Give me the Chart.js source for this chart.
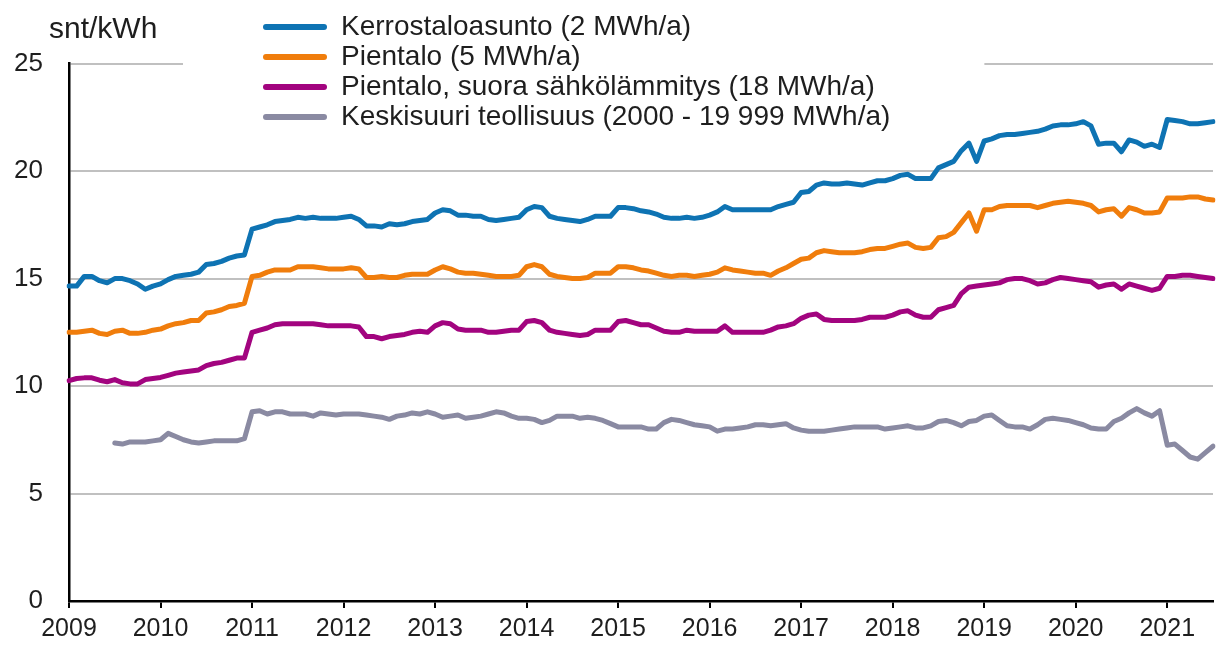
<!DOCTYPE html>
<html><head><meta charset="utf-8">
<script src="https://cdn.jsdelivr.net/npm/chart.js@4/dist/chart.umd.min.js"></script>
<style>html,body{margin:0;padding:0;background:#fff}#wrap{width:1216px;height:652px;position:relative}</style>
</head><body><div id="wrap"><canvas id="c"></canvas></div>
<script>
// Categories: monthly, Jan 2009 .. Jul 2021
const months = [];
for (let y = 2009; y <= 2021; y++) {
  for (let m = 1; m <= 12; m++) {
    if (y === 2021 && m > 7) break;
    months.push(y + '-' + String(m).padStart(2, '0'));
  }
}

const seriesLabels = [
  'Kerrostaloasunto (2 MWh/a)',
  'Pientalo (5 MWh/a)',
  'Pientalo, suora sähkölämmitys (18 MWh/a)',
  'Keskisuuri teollisuus (2000 - 19 999 MWh/a)'
];
const unitLabel = 'snt/kWh';

const kerrostalo = [
  14.65,14.65,15.1,15.1,14.9,14.8,15.0,15.0,14.9,14.75,14.5,14.65,
  14.75,14.95,15.1,15.15,15.2,15.3,15.65,15.7,15.8,15.95,16.05,16.1,
  17.3,17.4,17.5,17.65,17.7,17.75,17.85,17.8,17.85,17.8,17.8,17.8,
  17.85,17.9,17.75,17.45,17.45,17.4,17.55,17.5,17.55,17.65,17.7,17.75,
  18.05,18.2,18.15,17.95,17.95,17.9,17.9,17.75,17.7,17.75,17.8,17.85,
  18.2,18.35,18.3,17.9,17.8,17.75,17.7,17.65,17.75,17.9,17.9,17.9,
  18.3,18.3,18.25,18.15,18.1,18.0,17.85,17.8,17.8,17.85,17.8,17.85,
  17.95,18.1,18.35,18.2,18.2,18.2,18.2,18.2,18.2,18.35,18.45,18.55,
  19.0,19.05,19.35,19.45,19.4,19.4,19.45,19.4,19.35,19.45,19.55,19.55,
  19.65,19.8,19.85,19.65,19.65,19.65,20.15,20.3,20.45,20.95,21.3,20.45,
  21.4,21.5,21.65,21.7,21.7,21.75,21.8,21.85,21.95,22.1,22.15,22.15,
  22.2,22.3,22.1,21.25,21.3,21.3,20.9,21.45,21.35,21.15,21.25,21.1,
  22.4,22.35,22.3,22.2,22.2,22.25,22.3
];
const pientalo = [
  12.5,12.5,12.55,12.6,12.45,12.4,12.55,12.6,12.45,12.45,12.5,12.6,
  12.65,12.8,12.9,12.95,13.05,13.05,13.4,13.45,13.55,13.7,13.75,13.85,
  15.1,15.15,15.3,15.4,15.4,15.4,15.55,15.55,15.55,15.5,15.45,15.45,
  15.45,15.5,15.45,15.05,15.05,15.1,15.05,15.05,15.15,15.2,15.2,15.2,
  15.4,15.55,15.45,15.3,15.25,15.25,15.2,15.15,15.1,15.1,15.1,15.15,
  15.55,15.65,15.55,15.2,15.1,15.05,15.0,15.0,15.05,15.25,15.25,15.25,
  15.55,15.55,15.5,15.4,15.35,15.25,15.15,15.1,15.15,15.15,15.1,15.15,
  15.2,15.3,15.5,15.4,15.35,15.3,15.25,15.25,15.15,15.35,15.5,15.7,
  15.9,15.95,16.2,16.3,16.25,16.2,16.2,16.2,16.25,16.35,16.4,16.4,
  16.5,16.6,16.65,16.45,16.4,16.45,16.9,16.95,17.15,17.6,18.05,17.2,
  18.2,18.2,18.35,18.4,18.4,18.4,18.4,18.3,18.4,18.5,18.55,18.6,
  18.55,18.5,18.4,18.1,18.2,18.25,17.9,18.3,18.2,18.05,18.05,18.1,
  18.75,18.75,18.75,18.8,18.8,18.7,18.65
];
const pientaloSahko = [
  10.25,10.35,10.38,10.38,10.27,10.2,10.3,10.15,10.1,10.1,10.3,10.35,
  10.4,10.5,10.6,10.65,10.7,10.75,10.95,11.05,11.1,11.2,11.3,11.3,
  12.5,12.6,12.7,12.85,12.9,12.9,12.9,12.9,12.9,12.85,12.8,12.8,
  12.8,12.8,12.75,12.3,12.3,12.2,12.3,12.35,12.4,12.5,12.55,12.5,
  12.8,12.95,12.9,12.65,12.6,12.6,12.6,12.5,12.5,12.55,12.6,12.6,
  13.0,13.05,12.95,12.6,12.5,12.45,12.4,12.35,12.4,12.6,12.6,12.6,
  13.0,13.05,12.95,12.85,12.85,12.7,12.55,12.5,12.5,12.6,12.55,12.55,
  12.55,12.55,12.8,12.5,12.5,12.5,12.5,12.5,12.6,12.75,12.8,12.9,
  13.15,13.3,13.35,13.1,13.05,13.05,13.05,13.05,13.1,13.2,13.2,13.2,
  13.3,13.45,13.5,13.3,13.2,13.2,13.55,13.65,13.75,14.3,14.6,14.65,
  14.7,14.75,14.8,14.95,15.0,15.0,14.9,14.75,14.8,14.95,15.05,15.0,
  14.95,14.9,14.85,14.6,14.7,14.75,14.5,14.75,14.65,14.55,14.45,14.55,
  15.1,15.1,15.15,15.15,15.1,15.05,15.0
];
const teollisuus = [
  null,null,null,null,null,null,7.35,7.3,7.4,7.4,7.4,7.45,
  7.5,7.8,7.65,7.5,7.4,7.35,7.4,7.45,7.45,7.45,7.45,7.55,
  8.8,8.85,8.7,8.8,8.8,8.7,8.7,8.7,8.6,8.75,8.7,8.65,
  8.7,8.7,8.7,8.65,8.6,8.55,8.45,8.6,8.65,8.75,8.7,8.8,
  8.7,8.55,8.6,8.65,8.5,8.55,8.6,8.7,8.8,8.75,8.6,8.5,
  8.5,8.45,8.3,8.4,8.6,8.6,8.6,8.5,8.55,8.5,8.4,8.25,
  8.1,8.1,8.1,8.1,8.0,8.0,8.3,8.45,8.4,8.3,8.2,8.15,
  8.1,7.9,8.0,8.0,8.05,8.1,8.2,8.2,8.15,8.2,8.25,8.05,
  7.95,7.9,7.9,7.9,7.95,8.0,8.05,8.1,8.1,8.1,8.1,8.0,
  8.05,8.1,8.15,8.05,8.05,8.15,8.35,8.4,8.3,8.15,8.35,8.4,
  8.6,8.65,8.4,8.15,8.1,8.1,8.0,8.2,8.45,8.5,8.45,8.4,
  8.3,8.2,8.05,8.0,8.0,8.35,8.5,8.75,8.95,8.75,8.6,8.85,
  7.25,7.3,7.0,6.7,6.6,6.9,7.2
];
const seriesColors = ['#0E73B3', '#F07D0C', '#A2047F', '#8A8AA2'];

const FONT = "'Liberation Sans', Arial, Helvetica, sans-serif";

function makeSet(label, data, color) {
  return { label, data, borderColor: color, backgroundColor: color, fill: false,
           borderWidth: 5, pointRadius: 0, tension: 0, spanGaps: false,
           borderCapStyle: 'round', borderJoinStyle: 'round' };
}

// legend drawn on its own layer above the plot, placed next to the unit label
const legendPlacement = {
  id: 'legendPlacement',
  beforeLayout(chart) {
    const lg = chart.legend; if (!lg) return;
    lg._layers = () => [{ z: 1, draw: (ca) => lg.draw(ca) }];
  },
  afterLayout(chart) {
    const ca = chart.chartArea;
    const lg = chart.legend;
    if (lg) {
      lg.left = ca.left + 192;
      lg.top = 11;
      lg.right = ca.right;
      lg.bottom = ca.bottom;
    }
    const tb = chart.titleBlock;
    if (tb) { tb.left = 49; }
  }
};
// white backdrop of the legend box hiding the top grid line
const legendBackdrop = {
  id: 'legendBackdrop',
  beforeDatasetsDraw(chart) {
    const lg = chart.legend; if (!lg) return;
    const pad = lg.options.labels.padding;
    const colW = (lg.columnSizes && lg.columnSizes[0]) ? lg.columnSizes[0].width : 600;
    const x0 = lg.left + pad - 80;
    const ctx = chart.ctx;
    ctx.save();
    ctx.fillStyle = '#fff';
    ctx.fillRect(x0, chart.chartArea.top - 3, colW + 174, 6);
    ctx.restore();
  }
};

new Chart(document.getElementById('c'), {
  type: 'line',
  data: {
    labels: months,
    datasets: [
      makeSet(seriesLabels[0], kerrostalo, seriesColors[0]),
      makeSet(seriesLabels[1], pientalo, seriesColors[1]),
      makeSet(seriesLabels[2], pientaloSahko, seriesColors[2]),
      makeSet(seriesLabels[3], teollisuus, seriesColors[3])
    ]
  },
  options: {
    responsive: true, maintainAspectRatio: false, animation: false,
    layout: { padding: { left: 0, right: 3, top: 0, bottom: 2 } },
    plugins: {
      title: { display: true, text: unitLabel, align: 'start', color: '#1e1e1e',
               font: { family: FONT, size: 30, weight: 'normal' },
               padding: { top: 12, bottom: 15.6 } },
      legend: {
        position: 'chartArea', align: 'start',
        labels: {
          boxWidth: 64, boxHeight: 6, padding: 2, color: '#1e1e1e',
          font: { family: FONT, size: 28 },
          generateLabels(chart) {
            const items = Chart.defaults.plugins.legend.labels.generateLabels(chart);
            items.forEach(it => { it.fillStyle = it.strokeStyle; it.lineWidth = 0; it.borderRadius = 3; });
            return items;
          }
        }
      },
      tooltip: { enabled: false }
    },
    scales: {
      x: {
        type: 'category', offset: false,
        afterBuildTicks(s) { s.ticks = s.ticks.filter(t => t.value % 12 === 0); },
        ticks: { autoSkip: false, maxRotation: 0, minRotation: 0, padding: 6, color: '#1e1e1e',
                 font: { family: FONT, size: 25 },
                 callback(v) { return this.getLabelForValue(v).slice(0, 4); } },
        grid: { drawOnChartArea: false, drawTicks: true, tickLength: 7, color: '#000', lineWidth: 2 },
        border: { display: true, color: '#000', width: 2.5 }
      },
      y: {
        min: 0, max: 25,
        afterFit(s) { s.width = 69; },
        ticks: { stepSize: 5, padding: 26, color: '#1e1e1e', font: { family: FONT, size: 26 } },
        grid: { color: '#c0c0c0', lineWidth: 2, drawTicks: false },
        border: { display: true, color: '#000', width: 2.5 }
      }
    }
  },
  plugins: [legendPlacement, legendBackdrop]
});
</script>
</body></html>
